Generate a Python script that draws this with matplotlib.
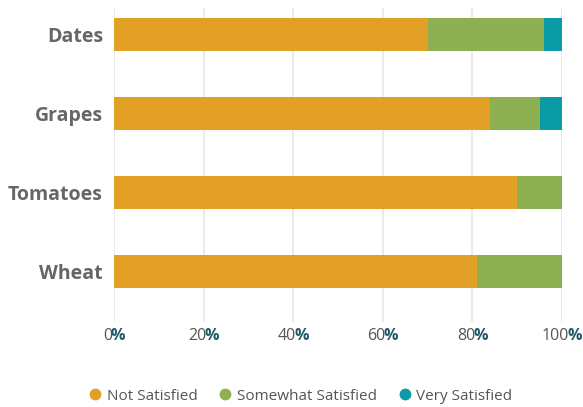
import matplotlib
matplotlib.use("Agg")
import matplotlib.pyplot as plt
from matplotlib.lines import Line2D
from matplotlib.transforms import offset_copy

categories = ["Dates", "Grapes", "Tomatoes", "Wheat"]
not_satisfied = [70, 84, 90, 81]
somewhat_satisfied = [26, 11, 10, 19]
very_satisfied = [4, 5, 0, 0]
series_names = ["Not Satisfied", "Somewhat Satisfied", "Very Satisfied"]
colors = ["#E3A027", "#8DB050", "#0A9BA6"]
x_ticks = [0, 20, 40, 60, 80, 100]

plt.rcParams['font.family'] = ['Open Sans', 'DejaVu Sans']

fig = plt.figure(figsize=(5.83, 4.07), dpi=100)
ax = fig.add_axes([114/583, 1 - 322/407, 448/583, 314/407])

ypos = list(range(len(categories)))
left = [0] * len(categories)
for vals, name, col in zip([not_satisfied, somewhat_satisfied, very_satisfied], series_names, colors):
    ax.barh(ypos, vals, left=left, height=0.42, color=col, label=name, zorder=3)
    left = [l + v for l, v in zip(left, vals)]

ax.set_xlim(0, 100)
ax.set_ylim(3.639, -0.335)
ax.set_yticks(ypos)
ax.set_yticklabels(categories, fontsize=14, fontweight='bold', color='#666666')
ax.tick_params(axis='y', length=0, pad=8)
ax.set_xticks(x_ticks)
ax.set_xticklabels([])
ax.tick_params(axis='x', length=0)
ax.grid(axis='x', color='#ebebeb', linewidth=1.5, zorder=0)
for s in ax.spines.values():
    s.set_visible(False)

# two-colour tick labels: number (grey) + bold teal "%"
fig.canvas.draw()
renderer = fig.canvas.get_renderer()
trans = ax.get_xaxis_transform()
overlap = 1.5
for t in x_ticks:
    num = ax.text(t, 0, str(t), color='#555555', fontsize=11.5, ha='right', va='baseline',
                  transform=trans, clip_on=False)
    pct = ax.text(t, 0, '%', color='#1c5a66', fontsize=11.5, fontweight='bold', ha='left',
                  va='baseline', transform=trans, clip_on=False)
    wn = num.get_window_extent(renderer).width
    wp = pct.get_window_extent(renderer).width
    shift_px = (wn - wp + overlap) / 2.0
    dy = -18
    num.set_transform(offset_copy(trans, fig=fig, x=shift_px, y=dy, units='dots'))
    pct.set_transform(offset_copy(trans, fig=fig, x=shift_px - overlap, y=dy, units='dots'))

handles = [Line2D([], [], marker='o', linestyle='', markersize=8.5, color=c,
                  markeredgewidth=0) for c in colors]
fig.legend(handles, series_names, loc='center', bbox_to_anchor=(300/583, 1 - 396/407),
           ncol=3, frameon=False, fontsize=11, labelcolor='#555555',
           handletextpad=0.25, columnspacing=1.34, handlelength=1.0)

fig.savefig("out.png", dpi=100)
